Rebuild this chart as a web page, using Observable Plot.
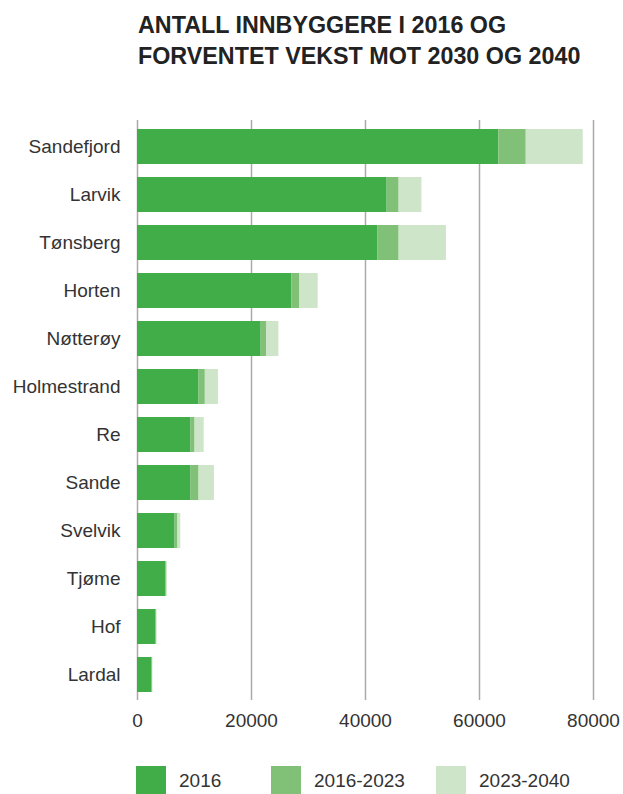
<!DOCTYPE html>
<html>
<head>
<meta charset="utf-8">
<script src="https://cdn.jsdelivr.net/npm/d3@7"></script>
<script src="https://cdn.jsdelivr.net/npm/@observablehq/plot@0.6"></script>
<style>
  body { margin: 0; background: #fff; font-family: "Liberation Sans", Arial, sans-serif; }
  #wrap { position: relative; width: 623px; height: 794px; overflow: hidden; }
  #title { box-sizing: border-box; height: 80px; padding: 9.5px 0 0 138px; font-size: 23.3px; font-weight: bold; line-height: 31px; color: #222; }
  #chart svg { display: block; }
  #legend { position: relative; height: 54px; }
  .item { position: absolute; top: 26px; height: 30px; display: flex; align-items: center; font-size: 19px; color: #333; }
  .sw { width: 30px; height: 30px; margin-right: 13px; }
</style>
</head>
<body>
<div id="wrap">
  <div id="title">ANTALL INNBYGGERE I 2016 OG<br>FORVENTET VEKST MOT 2030 OG 2040</div>
  <div id="chart"></div>
  <div id="legend"></div>
</div>
<script>
const municipalities = ["Sandefjord","Larvik","Tønsberg","Horten","Nøtterøy","Holmestrand","Re","Sande","Svelvik","Tjøme","Hof","Lardal"];
const pop2016 = [63400, 43800, 42200, 27100, 21700, 10800, 9400, 9400, 6600, 5000, 3250, 2550];
const pop2023 = [68200, 45900, 45900, 28500, 22700, 11900, 10100, 10800, 7100, 5150, 3350, 2650];
const pop2040 = [78200, 49900, 54200, 31700, 24800, 14200, 11700, 13500, 7600, 5150, 3450, 2700];
const seriesLabels = ["2016", "2016-2023", "2023-2040"];
const seriesColors = ["#41ad49", "#80c077", "#cfe5ca"];
const xTicks = [0, 20000, 40000, 60000, 80000];

const rows = [];
municipalities.forEach((m, i) => {
  rows.push({m, s: seriesLabels[0], x1: 0, x2: pop2016[i]});
  rows.push({m, s: seriesLabels[1], x1: pop2016[i], x2: pop2023[i]});
  rows.push({m, s: seriesLabels[2], x1: pop2023[i], x2: pop2040[i]});
});

const chart = Plot.plot({
  width: 623,
  height: 660,
  marginTop: 40,
  marginBottom: 40,
  marginLeft: 137,
  marginRight: 30,
  style: {fontSize: "19px", fontFamily: "'Liberation Sans', Arial, sans-serif", color: "#333", background: "white", overflow: "visible"},
  x: {domain: [0, 80000], ticks: xTicks, tickFormat: d => String(d), tickSize: 0, tickPadding: 13, label: null},
  y: {domain: municipalities, paddingInner: 0.275, paddingOuter: 0.1375, tickSize: 0, tickPadding: 17, label: null},
  color: {domain: seriesLabels, range: seriesColors},
  marks: [
    Plot.ruleX(xTicks, {stroke: "#aaa", strokeWidth: 1.5}),
    Plot.barX(rows, {y: "m", x1: "x1", x2: "x2", fill: "s"})
  ]
});
document.getElementById("chart").appendChild(chart);

const legend = document.getElementById("legend");
const lx = [136, 271, 436];
seriesLabels.forEach((s, i) => {
  const it = document.createElement("div");
  it.className = "item";
  it.style.left = lx[i] + "px";
  const sw = document.createElement("div");
  sw.className = "sw";
  sw.style.background = seriesColors[i];
  it.appendChild(sw);
  it.appendChild(document.createTextNode(s));
  legend.appendChild(it);
});
</script>
</body>
</html>
